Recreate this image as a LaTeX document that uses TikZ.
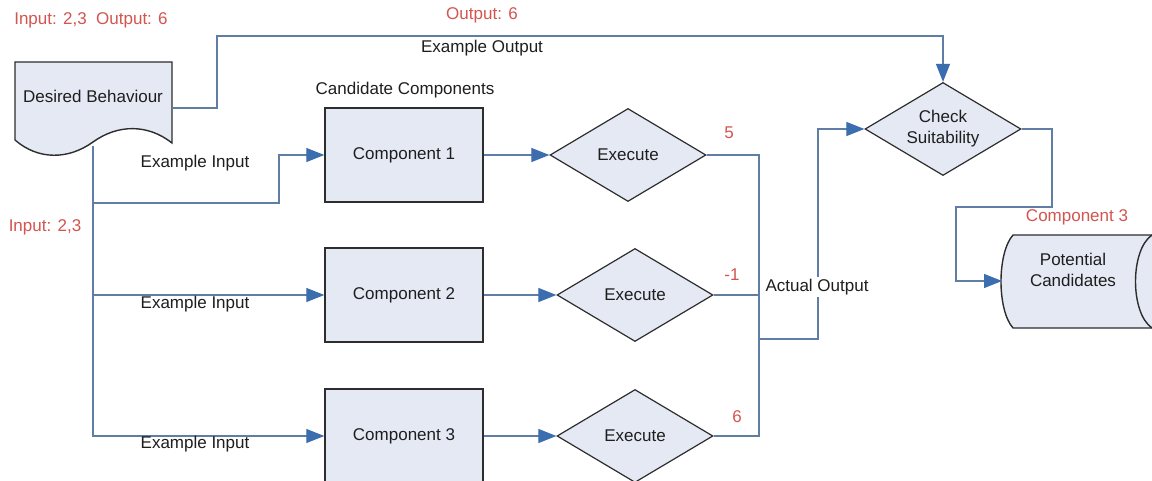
\documentclass[tikz,border=0pt]{standalone}
\usepackage{fontspec}
\setmainfont{Liberation Sans}
\usetikzlibrary{arrows.meta,shapes.geometric}
\definecolor{wire}{RGB}{95,125,165}
\definecolor{tipblue}{RGB}{60,110,175}
\definecolor{shapefill}{RGB}{228,233,244}
\definecolor{edgegray}{RGB}{45,45,45}
\definecolor{notered}{RGB}{210,85,80}
\definecolor{ink}{RGB}{30,30,30}

\begin{document}
\begin{tikzpicture}[x=1pt,y=-1pt,
  font=\fontsize{17}{21}\selectfont,
  wire/.style={draw=wire, line width=1.1pt},
  flow/.style={wire, -{Triangle[length=18pt,width=14pt,color=tipblue]}},
  compbox/.style={rectangle, draw=edgegray, line width=1.4pt, fill=shapefill,
    minimum width=158pt, minimum height=94pt, text=ink},
  decision/.style={diamond, shape aspect=1.68, draw=edgegray, line width=1.2pt, fill=shapefill,
    inner sep=0pt, minimum width=156pt, minimum height=93pt, text=ink, align=center},
  plaintext/.style={text=ink, inner sep=1pt, align=center},
  rednote/.style={text=notered, inner sep=1pt}]

\useasboundingbox (0,0) rectangle (1152,481);
\clip (0,0) rectangle (1152,481);
\fill[white] (0,0) rectangle (1152,481);

% document shape for the desired behaviour
\draw[fill=shapefill, draw=edgegray, line width=1.4pt]
  (15,62) -- (172,62) -- (172,143)
  .. controls (148,124) and (118,124) .. (93,142)
  .. controls (68,160) and (38,160) .. (15,140) -- cycle;
\node[plaintext] (desired) at (93,96) {Desired Behaviour};
\coordinate (db-east) at (172,108);
\coordinate (db-south) at (93,146);

% stored-data shape for the potential candidates
\draw[fill=shapefill, draw=edgegray, line width=1.4pt]
  (1013,235) -- (1170,235) -- (1170,328) -- (1013,328)
  .. controls (997,310) and (997,253) .. (1013,235) -- cycle;
\draw[draw=edgegray, line width=1.4pt]
  (1152,235) .. controls (1130,250) and (1130,313) .. (1152,328);
\node[plaintext] (pc) at (1073,270) {Potential\\Candidates};
\coordinate (pc-in) at (1002,281);

% candidate components and their executions
\node[compbox] (c1) at (404,155) {Component 1};
\node[compbox] (c2) at (404,295) {Component 2};
\node[compbox] (c3) at (404,436) {Component 3};
\node[decision] (e1) at (628,155) {Execute};
\node[decision] (e2) at (635,295) {Execute};
\node[decision] (e3) at (635,436) {Execute};
\node[decision] (chk) at (943,129) {Check\\Suitability};

% example inputs
\coordinate (split1) at (279,203);
\draw[flow] (db-south) |- (split1) |- (c1.west);
\draw[flow] (db-south) |- (c2.west);
\draw[flow] (db-south) |- (c3.west);

% example output
\coordinate (topbend) at (217,36);
\draw[flow] (db-east) -| (topbend) -| (chk.north);

% run each component
\draw[flow] (c1.east) -- (e1.west);
\draw[flow] (c2.east) -- (e2.west);
\draw[flow] (c3.east) -- (e3.west);

% actual outputs gathered into the check
\coordinate (merge) at (759,339);
\coordinate (riser) at (818,339);
\draw[wire] (e1.east) -- (e1.east -| merge) -- (e3.east -| merge) -- (e3.east);
\draw[wire] (e2.east) -- (e2.east -| merge);
\draw[flow] (merge) -- (riser) |- (chk.west);

% suitable component stored
\coordinate (drop) at (1052,207);
\coordinate (jog) at (956,207);
\draw[flow] (chk.east) -| (drop) -- (jog) |- (pc-in);

% texts
\node[rednote] (io) at (91,20) {Input: 2,3\ \ Output: 6};
\node[rednote] (outsix) at (482,15) {Output: 6};
\node[plaintext] (exout) at (482,48) {Example Output};
\node[plaintext] (cand) at (405,90) {Candidate Components};
\node[plaintext] (ex1) at (195,163) {Example Input};
\node[plaintext] (ex2) at (195,304) {Example Input};
\node[plaintext] (ex3) at (195,444) {Example Input};
\node[rednote] (in23) at (45,227) {Input: 2,3};
\node[rednote] (v5) at (729,133) {5};
\node[rednote] (vm1) at (732,275) {-1};
\node[rednote] (v6) at (737,417) {6};
\node[plaintext, fill=white, inner sep=2pt] (actual) at (817,287) {Actual Output};
\node[rednote] (comp3) at (1077,217) {Component 3};
\end{tikzpicture}
\end{document}
